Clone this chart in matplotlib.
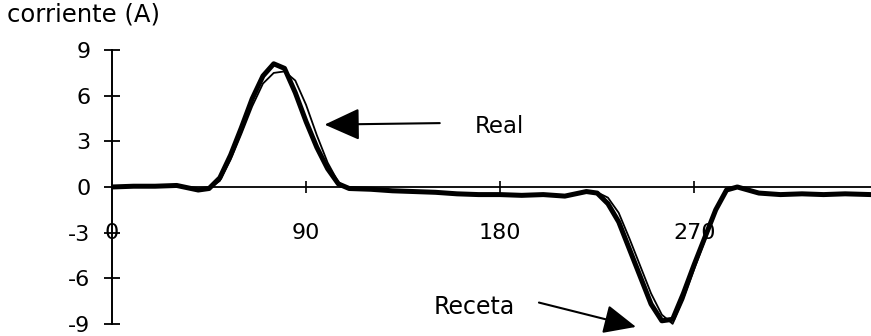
import matplotlib

matplotlib.use("Agg")
import matplotlib.pyplot as plt

# angle (degrees) shared by both traces
angle = [0, 10, 20, 30, 40, 45, 50, 55, 60, 65, 70, 75, 80, 85, 90, 95, 100,
         105, 110, 120, 130, 140, 150, 160, 170, 180, 190, 200, 210, 220, 225,
         230, 235, 240, 245, 250, 255, 260, 265, 270, 275, 280, 285, 290, 300,
         310, 320, 330, 340, 352]

# thick trace
receta = [0.0, 0.05, 0.05, 0.1, -0.2, -0.1, 0.6, 2.1, 3.9, 5.8, 7.3, 8.1, 7.8,
          6.2, 4.3, 2.6, 1.2, 0.2, -0.1, -0.15, -0.25, -0.3, -0.35, -0.45, -0.5,
          -0.5, -0.55, -0.5, -0.6, -0.3, -0.4, -1.1, -2.3, -4.1, -5.9, -7.7,
          -8.8, -8.7, -7.0, -5.1, -3.3, -1.5, -0.2, 0.0, -0.4, -0.5, -0.45,
          -0.5, -0.45, -0.5]

# thin trace
real = [0.0, 0.05, 0.05, 0.1, -0.2, -0.1, 0.4, 1.8, 3.5, 5.3, 6.8, 7.5, 7.6,
        7.0, 5.4, 3.4, 1.6, 0.3, -0.1, -0.15, -0.25, -0.3, -0.35, -0.45, -0.5,
        -0.5, -0.55, -0.5, -0.6, -0.3, -0.35, -0.7, -1.7, -3.4, -5.2, -7.0,
        -8.4, -9.0, -7.4, -5.4, -3.5, -1.6, -0.2, 0.0, -0.4, -0.5, -0.45,
        -0.5, -0.45, -0.5]

yticks = [9, 6, 3, 0, -3, -6, -9]
xticks = [0, 90, 180, 270]
xticklabels = ["0", "90", "180", "270"]

plt.rcParams["font.family"] = ["DejaVu Sans"]

fig = plt.figure(figsize=(8.71, 3.36), dpi=100)
ax = fig.add_axes([0.1286, 0.009, 0.8714, 0.869])

ax.plot(angle, receta, color="black", lw=3.6, solid_joinstyle="round",
        solid_capstyle="round", zorder=3)
ax.plot(angle, real, color="black", lw=1.3, solid_joinstyle="round", zorder=4)

ax.set_xlim(0, 352)
ax.set_ylim(-9.6, 9.6)

for side in ("top", "right"):
    ax.spines[side].set_visible(False)
ax.spines["bottom"].set_position(("data", 0))
ax.spines["left"].set_bounds(-9, 9)
ax.spines["left"].set_linewidth(1.4)
ax.spines["bottom"].set_linewidth(1.3)

ax.set_yticks(yticks)
ax.set_yticklabels([str(v) for v in yticks])
ax.tick_params(axis="y", direction="inout", length=11, width=1.3,
               labelsize=16, pad=10)
ax.set_xticks(xticks[1:])
ax.set_xticklabels([])
ax.tick_params(axis="x", direction="inout", length=9, width=1.2)

for xv, lab in zip(xticks, xticklabels):
    ax.text(xv, -3, lab, ha="center", va="center", fontsize=16)

fig.text(0.008, 0.92, "corriente (A)", fontsize=17.5, ha="left", va="bottom")

ax.annotate("", xy=(98.6, 4.1), xytext=(152, 4.2),
            arrowprops=dict(arrowstyle="-|>,head_length=1.1,head_width=0.5",
                            mutation_scale=20, lw=1.5, color="black",
                            shrinkA=0, shrinkB=0))
ax.text(168, 4.0, "Real", fontsize=16.5, ha="left", va="center")

ax.annotate("", xy=(243, -9.2), xytext=(198, -7.6),
            arrowprops=dict(arrowstyle="-|>,head_length=1.0,head_width=0.45",
                            mutation_scale=20, lw=1.5, color="black",
                            shrinkA=0, shrinkB=0))
ax.text(149, -7.9, "Receta", fontsize=17, ha="left", va="center")

fig.savefig("out.png", dpi=100)
